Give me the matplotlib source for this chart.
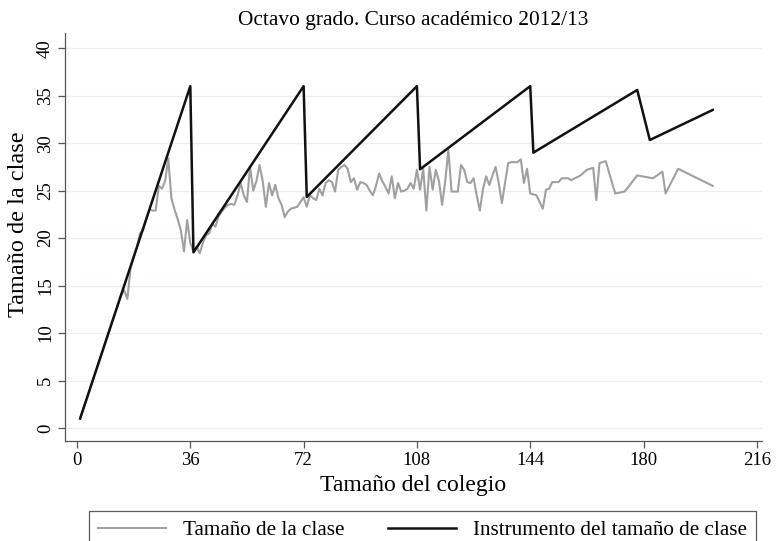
import matplotlib
matplotlib.use("Agg")
import matplotlib.pyplot as plt

plt.rcParams["font.family"] = ["Liberation Serif", "DejaVu Serif"]

# Tamaño de la clase (media observada por tamaño de colegio)
clase_x = [1, 5, 10, 14, 15, 16, 17, 18, 19, 20, 21, 22, 23, 24, 25, 26, 27, 28, 29, 30,
           31, 32, 33, 34, 35, 36, 37, 38, 39, 40, 41, 42, 43, 44, 45, 46, 47, 48, 49, 50,
           51, 52, 53, 54, 55, 56, 57, 58, 59, 60, 61, 62, 63, 64, 65, 66, 67, 68, 69, 70,
           71, 72, 73, 74, 75, 76, 77, 78, 79, 80, 81, 82, 83, 84, 85, 86, 87, 88, 89, 90,
           91, 92, 93, 94, 95, 96, 97, 98, 99, 100, 101, 102, 103, 104, 105, 106, 107, 108, 109, 110,
           111, 112, 113, 114, 115, 116, 117, 118, 119, 121, 122, 123, 124, 125, 126, 127, 128, 129, 130, 131,
           132, 133, 134, 135, 137, 138, 140, 141, 142, 143, 144, 146, 148, 149, 150, 151, 153, 154, 156, 157,
           160, 162, 164, 165, 166, 168, 171, 174, 178, 183, 186, 187, 191, 202]
clase_y = [1, 5, 10, 14, 14.5, 13.6, 16.8, 18, 19, 20.5, 20.8, 22, 23, 22.9, 22.9, 25.5, 25.2, 26, 28.4, 24.2,
           23, 22, 20.8, 18.6, 21.9, 19.5, 18.6, 19.1, 18.4, 19.5, 20.3, 20.5, 21.5, 21.2, 22.3, 22.8, 23.2, 23.5, 23.6, 23.5,
           24.5, 25.8, 24.5, 23.8, 27.5, 25, 26, 27.7, 26, 23.3, 25.8, 24.5, 25.6, 24.2, 23.5, 22.2, 22.8, 23.1, 23.2, 23.3,
           23.8, 24.3, 23.3, 24.5, 24.2, 24, 25.2, 24.5, 25.8, 26.1, 25.9, 24.9, 27.2, 27.5, 27.7, 27.3, 25.9, 26.3, 25.1, 25.9,
           25.8, 25.6, 25, 24.5, 25.5, 26.8, 26, 25.4, 24.7, 26.5, 24.2, 25.8, 24.9, 25, 25.2, 25.8, 25.2, 27.2, 25.1, 27.3,
           22.9, 27.5, 25.1, 27.2, 26, 23.5, 26, 29.3, 24.9, 24.9, 27.7, 27.2, 25.9, 25.8, 26.3, 24.5, 22.9, 25.2, 26.5, 25.6,
           26.6, 27.5, 25.8, 23.7, 27.9, 28, 28, 28.3, 25.8, 27.3, 24.7, 24.5, 23.1, 25.1, 25.2, 25.9, 25.9, 26.3, 26.3, 26.1,
           26.6, 27.2, 27.4, 24, 27.9, 28.1, 24.7, 24.9, 26.6, 26.3, 27, 24.7, 27.3, 25.5]

# Instrumento del tamaño de clase (vértices)
inst_x = [1, 36, 37, 72, 73, 108, 109, 144, 145, 178, 182, 202]
inst_y = [1, 36, 18.5, 36, 24.33, 36, 27.25, 36, 29, 35.6, 30.33, 33.5]

xticks = [0, 36, 72, 108, 144, 180, 216]
yticks = [0, 5, 10, 15, 20, 25, 30, 35, 40]

fig = plt.figure(figsize=(7.76, 5.41), dpi=100)
ax = fig.add_axes([0.0838, 0.1848, 0.898, 0.7542])

ax.plot(clase_x, clase_y, color="#a0a0a0", lw=1.5, label="Tamaño de la clase", zorder=3)
ax.plot(inst_x, inst_y, color="#111111", lw=1.8, label="Instrumento del tamaño de clase", zorder=4)

ax.set_xlim(-3.8, 217.6)
ax.set_ylim(-1.37, 41.6)
ax.set_xticks(xticks)
ax.set_yticks(yticks)
ax.tick_params(labelsize=13.5, color="#555555", length=5, width=0.9, pad=3)
for lab in ax.get_yticklabels():
    lab.set_rotation(90)
    lab.set_va("center")
ax.yaxis.grid(True, color="#e6eff1", lw=1.0)
ax.set_axisbelow(True)
for s in ["top", "right"]:
    ax.spines[s].set_visible(False)
for s in ["left", "bottom"]:
    ax.spines[s].set_color("#555555")
    ax.spines[s].set_linewidth(0.9)

ax.set_xlabel("Tamaño del colegio", fontsize=17, labelpad=4)
ax.set_ylabel("Tamaño de la clase", fontsize=17.5, va="center")
ax.yaxis.set_label_coords(-0.0674, 0.532)
ax.set_title("Octavo grado. Curso académico 2012/13", fontsize=15.4, pad=6)

leg = fig.legend(loc="upper center", bbox_to_anchor=(0.5445, 0.056), ncol=2,
                 fontsize=15.2, handlelength=3.2, columnspacing=2.1, handletextpad=0.8,
                 frameon=True, fancybox=False, borderpad=0.45, borderaxespad=0)
leg.get_frame().set_edgecolor("#333333")
leg.get_frame().set_linewidth(0.9)

fig.savefig("out.png", dpi=100)
